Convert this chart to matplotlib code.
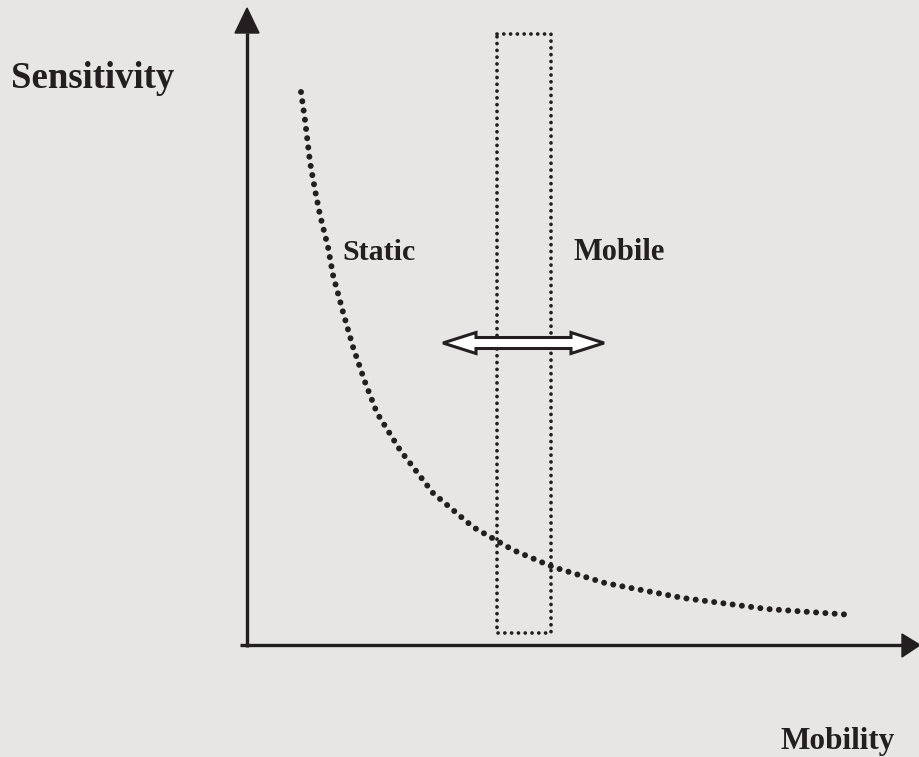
import matplotlib
matplotlib.use("Agg")
import matplotlib.pyplot as plt
from matplotlib.patches import Polygon

# curve (pixel-like units, y grows downward)
curve_x = [301, 305, 310, 315, 320, 328, 333, 343, 353, 365, 377, 400, 433, 473, 513, 553, 605, 683, 767, 853]
curve_y = [92, 120, 162, 190, 215, 247, 275, 312, 347, 382, 413, 450, 493, 527, 550, 567, 583, 598, 609, 615]

# window of mobile operation
band_x = [497, 551]
band_y = [34, 633]

# axes origin and ends
origin = (247, 645)
x_end = 920
y_end = 8

ink = "#231f20"
bg = "#e8e6e4"

fig = plt.figure(figsize=(9.2, 7.57), dpi=100, facecolor=bg)
ax = fig.add_axes([0, 0, 1, 1])
ax.set_facecolor(bg)
ax.set_xlim(0, 920)
ax.set_ylim(757, 0)
ax.axis("off")

# axes lines with triangular heads
ax.plot([240, x_end - 18], [origin[1], origin[1]], color=ink, lw=2.4, solid_capstyle="butt")
ax.plot([origin[0], origin[0]], [origin[1] + 2, y_end + 25], color=ink, lw=2.4, solid_capstyle="butt")
ax.add_patch(Polygon([[x_end, origin[1]], [x_end - 18, origin[1] - 11], [x_end - 18, origin[1] + 12]],
                     closed=True, color=ink))
ax.add_patch(Polygon([[origin[0], y_end], [origin[0] - 12, y_end + 25], [origin[0] + 12, y_end + 25]],
                     closed=True, color=ink))

# dotted band
ax.plot([band_x[0], band_x[1], band_x[1], band_x[0], band_x[0]],
        [band_y[0], band_y[0], band_y[1], band_y[1], band_y[0]],
        color=ink, lw=2.7, linestyle=(0, (0.01, 1.8)), dash_capstyle="round")

# dotted sensitivity curve
ax.plot(curve_x, curve_y, color=ink, lw=4.3, linestyle=(0, (0.01, 1.55)), dash_capstyle="round")

# hollow double arrow
cx, cy = 523.5, 343
half, head, hh, sh = 80.5, 33, 10.5, 5.5
arrow = [[cx - half, cy], [cx - half + head, cy - hh], [cx - half + head, cy - sh],
         [cx + half - head, cy - sh], [cx + half - head, cy - hh], [cx + half, cy],
         [cx + half - head, cy + hh], [cx + half - head, cy + sh], [cx - half + head, cy + sh],
         [cx - half + head, cy + hh]]
ax.add_patch(Polygon(arrow, closed=True, facecolor="white", edgecolor=ink, lw=2.2, zorder=5))

font = dict(family="Liberation Serif", weight="bold", color=ink)
ax.text(11, 78, "Sensitivity", fontsize=26.5, ha="left", va="center", **font)
ax.text(895, 742, "Mobility", fontsize=22.5, ha="right", va="center", **font)
ax.text(342, 252, "Static", fontsize=21.5, ha="left", va="center", **font)
ax.text(574, 252, "Mobile", fontsize=22, ha="left", va="center", **font)

fig.savefig("out.png", dpi=100, facecolor=bg)
